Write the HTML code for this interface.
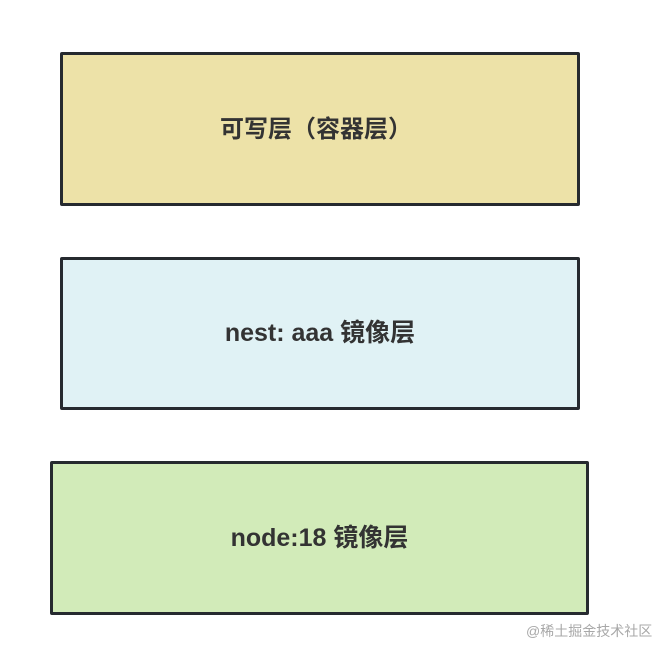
<!DOCTYPE html>
<html><head><meta charset="utf-8"><style>
html,body{margin:0;padding:0;background:#fff;width:670px;height:656px;overflow:hidden;position:relative;font-family:"Liberation Sans","Noto Sans CJK SC",sans-serif;}
.b{position:absolute;box-sizing:border-box;border:3.5px solid #262a2f;border-radius:2px;display:flex;align-items:center;justify-content:center;font-size:25px;font-weight:bold;color:#333;padding-bottom:5px;}
.w{position:absolute;left:526px;top:621px;font-size:14px;color:#a8a8a8;font-family:"Liberation Sans","Noto Sans CJK SC",sans-serif;}
</style></head><body>
<div class="b" style="left:60px;top:52px;width:520px;height:154px;background:#ede2a8;"><span style="margin-right:8px;font-size:24px">可写层（容器层）</span></div>
<div class="b" style="left:60px;top:257px;width:520px;height:153px;background:#e0f2f5;">nest: aaa 镜像层</div>
<div class="b" style="left:50px;top:461px;width:539px;height:154px;background:#d2ebb9;">node:18 镜像层</div>
<div class="w">@稀土掘金技术社区</div>
</body></html>
